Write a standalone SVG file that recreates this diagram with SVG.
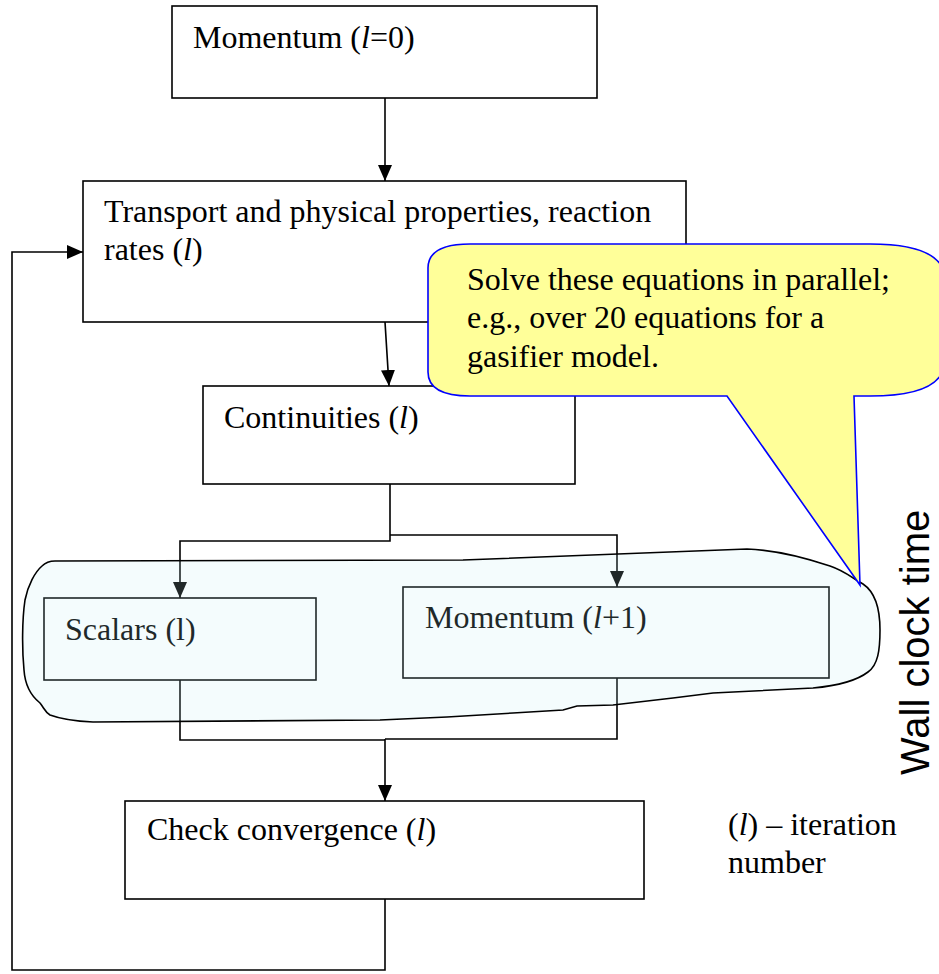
<svg xmlns="http://www.w3.org/2000/svg" width="939" height="974" viewBox="0 0 939 974">
<style>
.box{fill:none;stroke:#000;stroke-width:1.6}
.t{font-family:"Liberation Serif","Times New Roman",serif;font-size:32px;fill:#000}
.conn{fill:none;stroke:#000;stroke-width:1.6}
</style>
<defs>
<marker id="arr" markerUnits="userSpaceOnUse" markerWidth="16" markerHeight="14" refX="16" refY="7" orient="auto">
<path d="M0,0 L16,7 L0,14 Z" fill="#000"/>
</marker>
</defs>
<rect width="939" height="974" fill="#fff"/>
<g id="n-momentum0">
<rect class="box" x="172" y="6" width="425" height="92"/>
<text class="t" x="193" y="48">Momentum (<tspan font-style="italic">l</tspan>=0)</text>
</g>
<g id="n-transport">
<rect class="box" x="83" y="181" width="603" height="141"/>
<text class="t" x="104" y="222">Transport and physical properties, reaction</text>
<text class="t" x="104" y="260">rates (<tspan font-style="italic">l</tspan>)</text>
</g>
<g id="n-continuities">
<rect class="box" x="203" y="386" width="372" height="98"/>
<text class="t" x="224" y="428">Continuities (<tspan font-style="italic">l</tspan>)</text>
</g>
<g id="n-scalars">
<rect class="box" x="44" y="598" width="272" height="82"/>
<text class="t" x="65" y="640">Scalars (l)</text>
</g>
<g id="n-momentum1">
<rect class="box" x="403" y="587" width="426" height="91"/>
<text class="t" x="425" y="628">Momentum (<tspan font-style="italic">l</tspan>+1)</text>
</g>
<g id="n-check">
<rect class="box" x="125" y="801" width="519" height="98"/>
<text class="t" x="147" y="840">Check convergence (<tspan font-style="italic">l</tspan>)</text>
</g>
<g id="connectors">
<path class="conn" d="M385,98 V181" marker-end="url(#arr)"/>
<path class="conn" d="M385,322 L389,386" marker-end="url(#arr)"/>
<path class="conn" d="M390,484 V541 H180 V598" marker-end="url(#arr)"/>
<path class="conn" d="M390,535 H617 V587" marker-end="url(#arr)"/>
<path class="conn" d="M180,680 V740 H385"/>
<path class="conn" d="M617,678 V739 H385"/>
<path class="conn" d="M385,739 V801" marker-end="url(#arr)"/>
<path class="conn" d="M385,899 V970 H12 V252 H83" marker-end="url(#arr)"/>
</g>
<g id="parallel-group">
<path d="M55,561 L463,560 L747,549 C775,550 800,556 830,566 C845,571 852,578 863,584 C875,592 880,610 880,630 C880,650 878,665 868,672 C855,682 835,686 813,688 L713,693 L673,698 L613,705 L577,706 L563,710 L513,713 L447,717 L380,720 L93,722 C70,721 58,718 50,715 C45,712 44,708 40,703 C30,695 25,685 24,670 C22,650 22,620 25,600 C28,585 35,572 42,566 C46,562 50,561 55,561 Z" fill="#c0f0f4" fill-opacity="0.17" stroke="#000" stroke-width="1.6"/>
</g>
<g id="callout">
<path d="M470,244 H870 Q945,244 945,280 V360 Q945,396 870,396 H854 L860,585 L727,396 H470 Q428,396 428,372 V268 Q428,244 470,244 Z" fill="#ffff99" stroke="#0000ff" stroke-width="1.6"/>
<text class="t" x="467" y="290">Solve these equations in parallel;</text>
<text class="t" x="467" y="328">e.g., over 20 equations for a</text>
<text class="t" x="467" y="367">gasifier model.</text>
</g>
<g id="legend">
<text class="t" x="728" y="835">(<tspan font-style="italic">l</tspan>) – iteration</text>
<text class="t" x="728" y="873">number</text>
</g>
<g id="axis-label">
<text transform="translate(929,775) rotate(-90)" font-family="'Liberation Sans',Arial,sans-serif" font-size="40" fill="#000">Wall clock time</text>
</g>
</svg>
